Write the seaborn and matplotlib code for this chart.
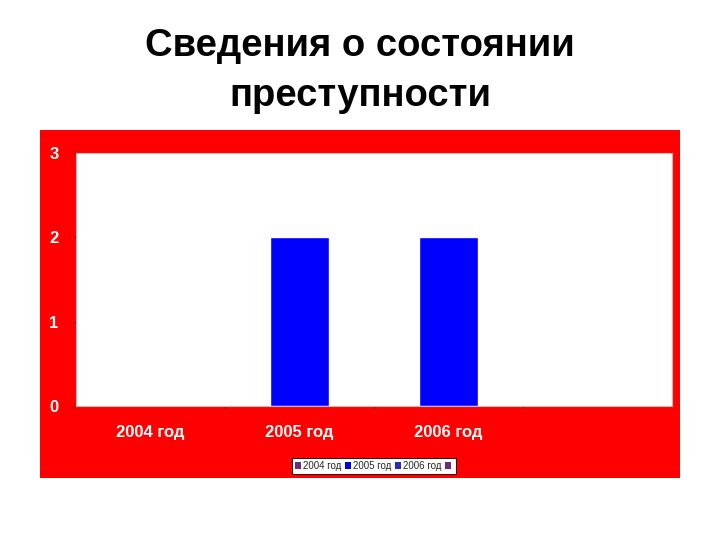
import matplotlib
matplotlib.use('Agg')
import matplotlib.pyplot as plt
import seaborn as sns
import pandas as pd
from matplotlib.patches import Rectangle, Patch

categories = ['2004 год', '2005 год', '2006 год', '']
values = [0, 2, 2, 0]
legend_labels = ['2004 год', '2005 год', '2006 год', '']
legend_colors = ['#6B2C7A', '#0000E0', '#2A2AB8', '#6B2C7A']

sns.set_style('white')
plt.rcParams['font.family'] = ['Liberation Sans', 'DejaVu Sans']

df = pd.DataFrame({'cat': categories, 'val': values})

fig = plt.figure(figsize=(7.2, 5.4), dpi=100)
fig.patch.set_facecolor('white')

# красная подложка области диаграммы
fig.patches.append(Rectangle((40 / 720, 62 / 540), 640 / 720, 348 / 540,
                             transform=fig.transFigure, facecolor='#FF0000',
                             edgecolor='none', zorder=-5))

fig.text(0.5, 0.915, 'Сведения о состоянии', ha='center', va='center',
         fontsize=27.5, fontweight='bold', color='black')
fig.text(0.5, 0.822, 'преступности', ha='center', va='center',
         fontsize=27.5, fontweight='bold', color='black')

ax = fig.add_axes([76 / 720, 134 / 540, 596 / 720, 253 / 540])
ax.set_facecolor('white')
sns.barplot(data=df, x='cat', y='val', ax=ax, color='#0000FF', width=0.4,
            saturation=1, order=categories)
ax.set_xlim(-0.5, 3.5)
ax.set_ylim(0, 3)
ax.set_yticks([0, 1, 2, 3])
ax.set_xticks([0.5, 1.5, 2.5], minor=True)
ax.set_xlabel('')
ax.set_ylabel('')
for s in ax.spines.values():
    s.set_color('#BBBBBB')
    s.set_linewidth(0.8)
ax.tick_params(axis='y', left=True, length=3, width=0.6, color='#7A0000',
               labelsize=12, labelcolor='white', pad=9.5)
ax.tick_params(axis='x', which='major', bottom=False, length=0, labelsize=12,
               labelcolor='white', pad=14)
ax.tick_params(axis='x', which='minor', bottom=True, length=3, width=0.6,
               color='#7A0000')
for lbl in ax.get_xticklabels() + ax.get_yticklabels():
    lbl.set_fontweight('bold')

handles = [Patch(facecolor=c, edgecolor='none') for c in legend_colors]
leg = fig.legend(handles, legend_labels, loc='center', ncol=4,
                 bbox_to_anchor=(374 / 720, 74 / 540), fontsize=7,
                 frameon=True, fancybox=False, framealpha=1,
                 handlelength=0.7, handleheight=0.7, handletextpad=0.2,
                 columnspacing=0.3, borderpad=0.3)
leg.get_frame().set_facecolor('white')
leg.get_frame().set_edgecolor('black')
leg.get_frame().set_linewidth(0.6)

fig.savefig('out.png', dpi=100)
